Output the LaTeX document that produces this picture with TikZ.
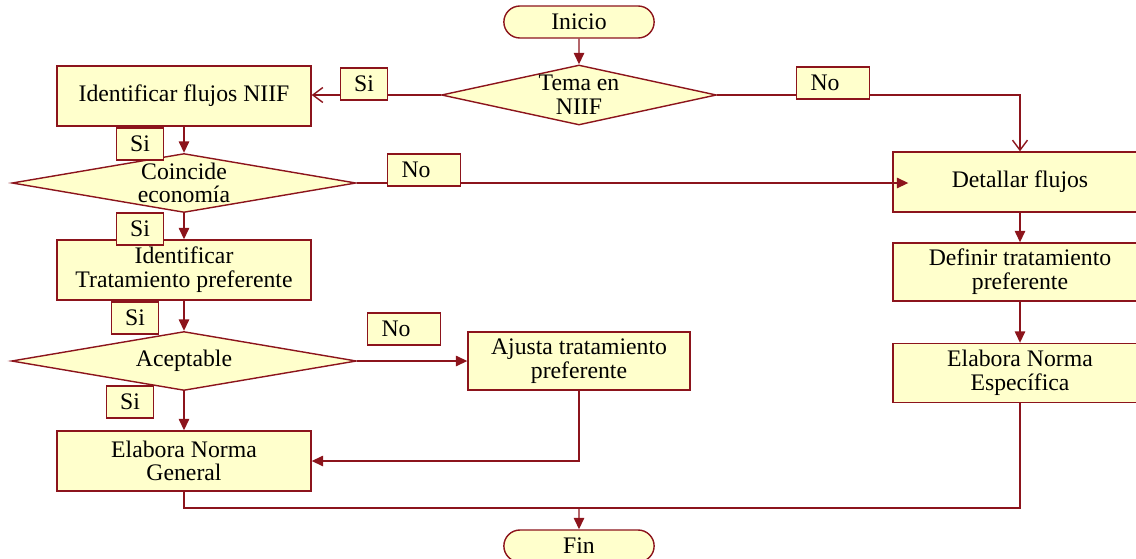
\documentclass[tikz,border=0pt]{standalone}
\usepackage{fontspec}
\setmainfont{Liberation Serif}
\usepackage{tikz}
\usetikzlibrary{arrows.meta,positioning,calc,shapes.geometric,shapes.misc}
\definecolor{vino}{RGB}{140,20,28}
\definecolor{crema}{RGB}{255,255,204}
\newcommand{\flowfont}{\fontsize{13.5}{13.5}\selectfont}
\tikzset{
  procbox/.style={draw=vino,fill=crema,line width=0.8pt,align=center,
    minimum width=5.08cm,minimum height=1.2cm,inner sep=2pt,font=\flowfont},
  decisionbox/.style={diamond,draw=vino,fill=crema,line width=0.8pt,inner sep=0pt},
  decisiontext/.style={align=center,font=\flowfont},
  termbox/.style={rounded rectangle,draw=vino,fill=crema,line width=0.8pt,
    minimum width=3.24cm,minimum height=0.64cm,font=\flowfont},
  sibox/.style={draw=vino,fill=crema,line width=0.8pt,minimum width=0.94cm,
    minimum height=0.64cm,inner sep=0pt,font=\flowfont},
  nobox/.style={sibox,minimum width=1.46cm,text width=0.9cm,align=left,inner xsep=0.28cm},
  mainarrow/.style={-{Triangle[length=2.3mm,width=2.1mm]},draw=vino,line width=0.8pt},
  openarrow/.style={-{Straight Barb[length=2mm,width=3mm]},draw=vino,line width=0.8pt},
  plainline/.style={draw=vino,line width=0.8pt}
}
\begin{document}
\begin{tikzpicture}[x=0.02cm,y=-0.02cm]
  \useasboundingbox (0,0) rectangle (1136,558);
  % nodos
  \node[termbox] (ini) at (579,22) {Inicio};
  \node[decisionbox,minimum width=5.5cm,minimum height=1.2cm,
    label={[decisiontext]center:Tema en\\NIIF}] (tema) at (579,95) {};
  \node[procbox] (idf) at (184,96) {Identificar flujos NIIF};
  \node[decisionbox,minimum width=6.88cm,minimum height=1.18cm,
    label={[decisiontext]center:Coincide\\economía}] (co) at (184,183) {};
  \node[procbox] (itp) at (184,270) {Identificar\\Tratamiento preferente};
  \node[decisionbox,minimum width=6.9cm,minimum height=1.18cm,
    label={[decisiontext]center:Aceptable}] (ac) at (184,361) {};
  \node[procbox,minimum width=4.44cm,minimum height=1.16cm] (aj) at (579,361) {Ajusta tratamiento\\preferente};
  \node[procbox] (eng) at (184,461) {Elabora Norma\\General};
  \node[procbox] (det) at (1020,182) {Detallar flujos};
  \node[procbox,minimum height=1.16cm] (dtp) at (1020,272) {Definir tratamiento\\preferente};
  \node[procbox,minimum height=1.18cm] (ene) at (1020,373) {Elabora Norma\\Específica};
  \node[termbox] (fin) at (579,546) {Fin};
  \coordinate (jn) at (579,508);
  % conectores
  \draw[mainarrow] (ini) -- (tema);
  \draw[openarrow] (tema.west) -- (tema.west -| idf.east);
  \draw[openarrow] (tema.east) -| (det.north);
  \draw[mainarrow] (idf) -- (co);
  \draw[mainarrow] (co.east) -- ([xshift=0.32cm]co.east -| det.west);
  \draw[mainarrow] (co) -- (itp);
  \draw[mainarrow] (itp) -- (ac);
  \draw[mainarrow] (ac.east) -- (ac.east -| aj.west);
  \draw[mainarrow] (ac) -- (eng);
  \draw[mainarrow] (aj.south) |- (eng.east);
  \draw[mainarrow] (det) -- (dtp);
  \draw[mainarrow] (dtp) -- (ene);
  \draw[plainline] (eng.south) |- (jn);
  \draw[plainline] (ene.south) |- (jn);
  \draw[mainarrow] (jn) -- (fin);
  % etiquetas
  \node[sibox] (si1) at (364,84) {Si};
  \node[nobox] (no1) at (833,83) {No};
  \node[sibox] (si2) at (140,144) {Si};
  \node[nobox] (no2) at (424,170) {No};
  \node[sibox] (si3) at (140,229) {Si};
  \node[sibox] (si4) at (135,318) {Si};
  \node[nobox] (no3) at (404,329) {No};
  \node[sibox] (si5) at (130,402) {Si};
\end{tikzpicture}
\end{document}
